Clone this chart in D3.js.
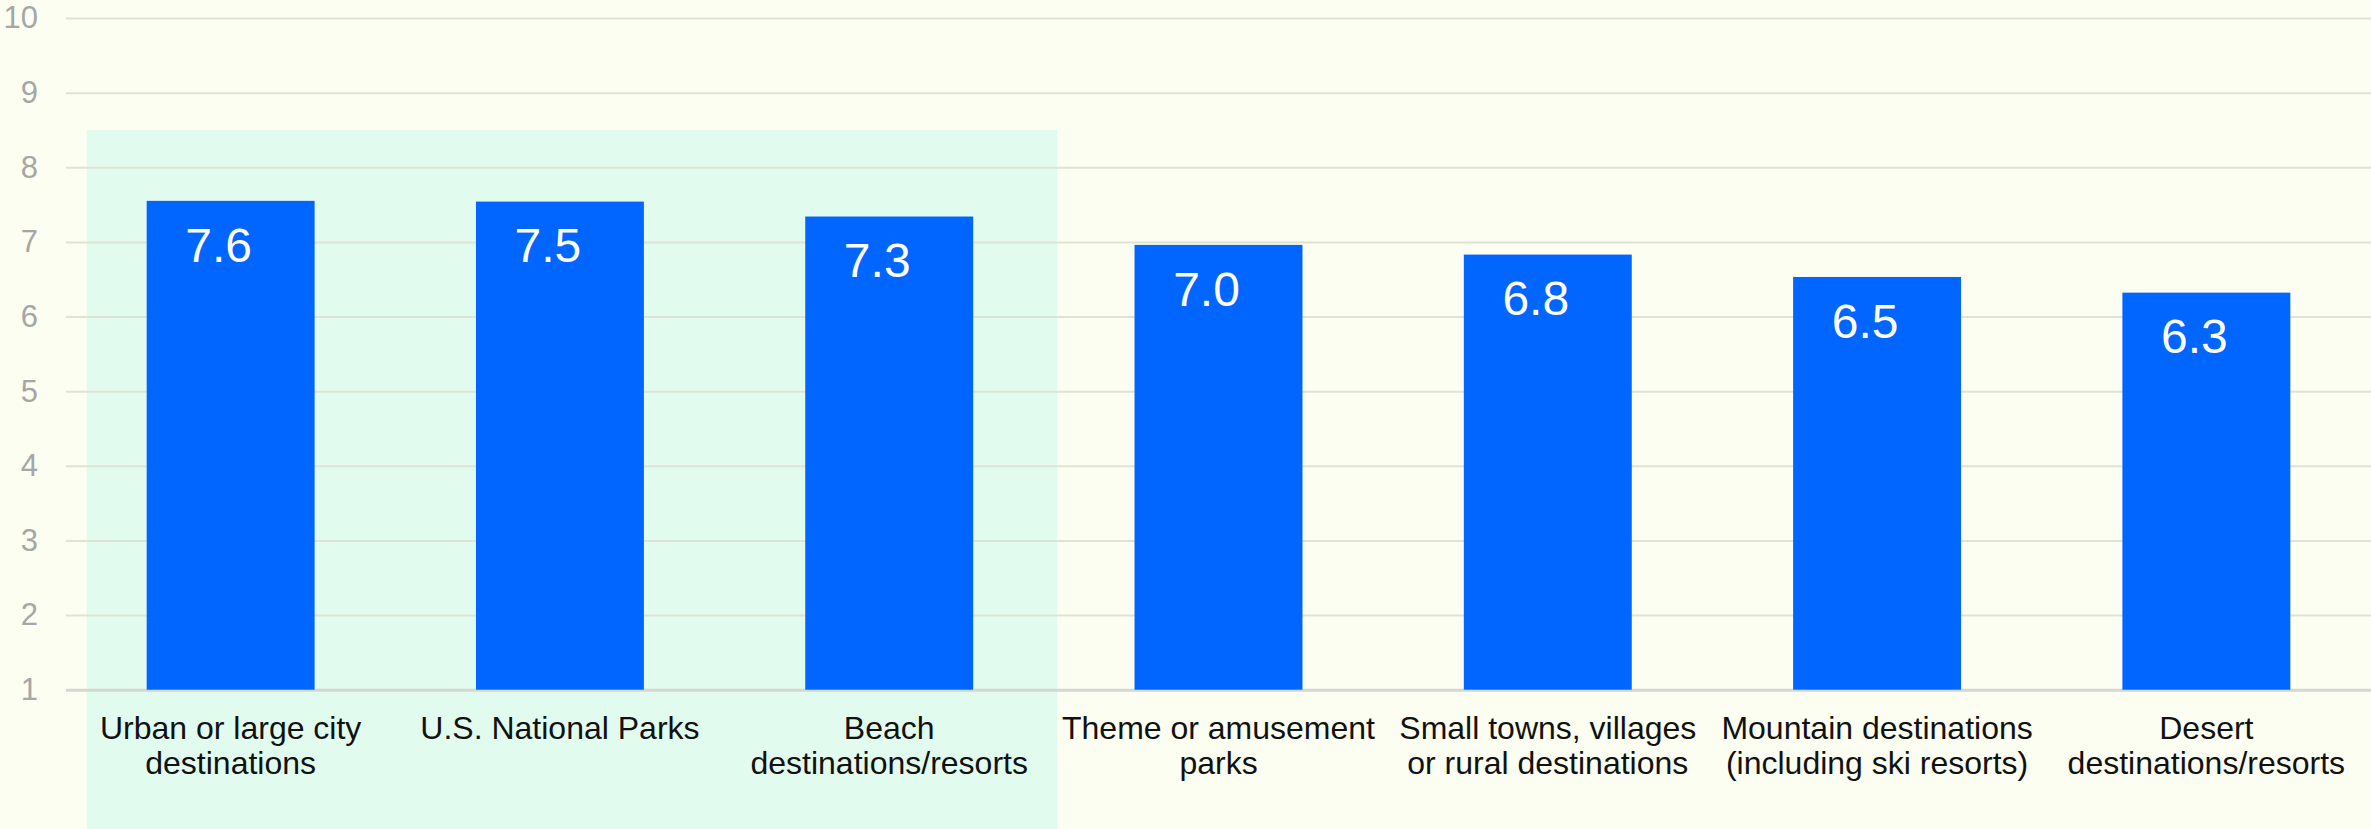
<!DOCTYPE html>
<html>
<head>
<meta charset="utf-8">
<script src="https://cdn.jsdelivr.net/npm/d3@7/dist/d3.min.js"></script>
<style>
  html, body { margin: 0; padding: 0; background: #fbfef0; }
  svg { display: block; }
  text { font-family: "Liberation Sans", Arial, sans-serif; }
</style>
</head>
<body>
<svg id="chart" width="2371" height="829"></svg>
<script>
const categories = [
  ["Urban or large city", "destinations"],
  ["U.S. National Parks"],
  ["Beach", "destinations/resorts"],
  ["Theme or amusement", "parks"],
  ["Small towns, villages", "or rural destinations"],
  ["Mountain destinations", "(including ski resorts)"],
  ["Desert", "destinations/resorts"]
];
const values = [7.55, 7.54, 7.34, 6.96, 6.83, 6.53, 6.32];
const valueLabels = ["7.6", "7.5", "7.3", "7.0", "6.8", "6.5", "6.3"];
const yTicks = [1, 2, 3, 4, 5, 6, 7, 8, 9, 10];
const highlighted = [0, 1, 2];

const W = 2371, H = 829;
const svg = d3.select("#chart");

svg.append("rect").attr("width", W).attr("height", H).attr("fill", "#fbfef0");

const ids = categories.map((d, i) => i);
const x = d3.scaleBand().domain(ids).range([66, W]).paddingInner(0.49).paddingOuter(0.245);
const y = d3.scaleLinear().domain([1, 10]).range([689.7, 18]);

// highlight region for first three categories
const step = x.step();
const hx0 = x(highlighted[0]) - x.bandwidth() * 0.357;
const hx1 = x(highlighted[highlighted.length - 1]) + x.bandwidth() + x.bandwidth() * 0.5;
svg.append("rect")
  .attr("x", hx0).attr("y", y(8.5))
  .attr("width", hx1 - hx0).attr("height", H - y(8.5))
  .attr("fill", "#e2fbef");

// gridlines
const yAxis = d3.axisLeft(y).tickValues(yTicks).tickSize(-(W - 66)).tickFormat(d3.format("d"));
const gA = svg.append("g").attr("transform", "translate(66,0)").call(yAxis);
gA.select(".domain").remove();
gA.selectAll(".tick line")
  .attr("stroke", d => d === 1 ? "#d6d6d2" : "#e0e3d3")
  .attr("stroke-width", d => d === 1 ? 3 : 2);
gA.selectAll(".tick text")
  .attr("x", -28)
  .attr("fill", "#a6a6a6")
  .attr("font-size", 31)
  .attr("font-family", "'Liberation Sans', Arial, sans-serif");

// bars
svg.append("g").selectAll("rect").data(values).join("rect")
  .attr("x", (d, i) => x(i))
  .attr("y", d => y(d))
  .attr("width", x.bandwidth())
  .attr("height", d => y(1) - y(d))
  .attr("fill", "#0066ff");

// value labels
svg.append("g").selectAll("text").data(values).join("text")
  .attr("x", (d, i) => x(i) + x.bandwidth() / 2 - 12)
  .attr("y", d => y(d) + 44)
  .attr("dy", "0.35em")
  .attr("text-anchor", "middle")
  .attr("fill", "#ffffff")
  .attr("font-size", 48)
  .text((d, i) => valueLabels[i]);

// category labels
const cg = svg.append("g").selectAll("text").data(categories).join("text")
  .attr("x", (d, i) => x(i) + x.bandwidth() / 2)
  .attr("y", y(1) + 49)
  .attr("text-anchor", "middle")
  .attr("fill", "#111111")
  .attr("font-size", 32);
cg.each(function(d) {
  const t = d3.select(this);
  d.forEach((line, j) => {
    t.append("tspan")
      .attr("x", t.attr("x"))
      .attr("dy", j === 0 ? 0 : 35)
      .text(line);
  });
});
</script>
</body>
</html>
